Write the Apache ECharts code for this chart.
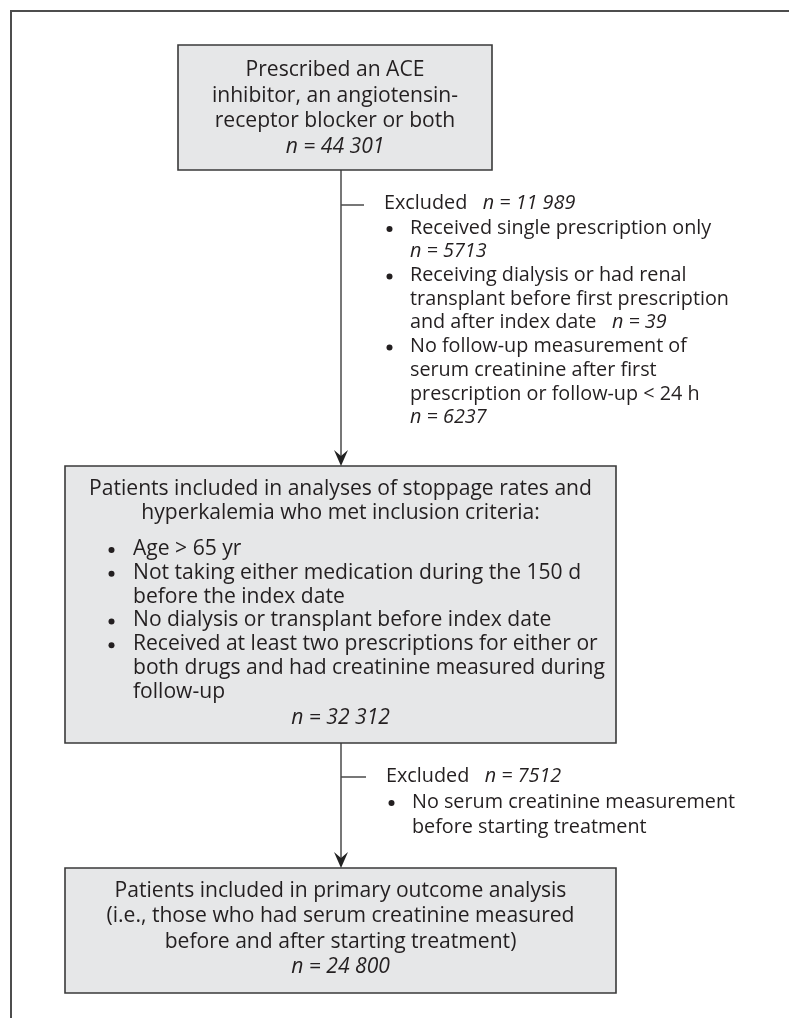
<!DOCTYPE html>
<html><head><meta charset="utf-8">
<script src="https://cdn.jsdelivr.net/npm/echarts@6/dist/echarts.min.js"></script>
<style>html,body{margin:0;padding:0;background:#fff}#c{width:789px;height:1018px}</style>
</head><body><div id="c"></div>
<script>
// ---- data (text content and counts) ----
const box1Lines = ['Prescribed an ACE', 'inhibitor, an angiotensin-', 'receptor blocker or both'];
const box1N = '44 301';

const excl1Head = ['Excluded', '11 989'];
// [type, text, count]
const excl1Lines = [
  ['bullet', 'Received single prescription only', ''],
  ['cont', '', '5713'],
  ['bullet', 'Receiving dialysis or had renal', ''],
  ['cont', 'transplant before first prescription', ''],
  ['cont', 'and after index date', '39'],
  ['bullet', 'No follow-up measurement of', ''],
  ['cont', 'serum creatinine after first', ''],
  ['cont', 'prescription or follow-up < 24 h', ''],
  ['cont', '', '6237']
];

const box2Title = ['Patients included in analyses of stoppage rates and', 'hyperkalemia who met inclusion criteria:'];
const box2Lines = [
  ['bullet', 'Age > 65 yr'],
  ['bullet', 'Not taking either medication during the 150 d'],
  ['cont', 'before the index date'],
  ['bullet', 'No dialysis or transplant before index date'],
  ['bullet', 'Received at least two prescriptions for either or'],
  ['cont', 'both drugs and had creatinine measured during'],
  ['cont', 'follow-up']
];
const box2N = '32 312';

const excl2Head = ['Excluded', '7512'];
const excl2Lines = [
  ['bullet', 'No serum creatinine measurement', ''],
  ['cont', 'before starting treatment', '']
];

const box3Lines = ['Patients included in primary outcome analysis', '(i.e., those who had serum creatinine measured', 'before and after starting treatment)'];
const box3N = '24 800';

// ---- styling / layout ----
const FONT = '"Open Sans", "Noto Sans", sans-serif';
const FS_SIDE = 19.8;
const FS_BOX = 21.1;
const TXT = '#231f20';
const BOXFILL = '#e6e7e8';
const BOXLINE = '#3a3a3a';
const CONN = '#4a4a4a';

function label(txt, x, y, align, fs) {
  return {
    type: 'text', silent: true, z: 10,
    style: {
      text: txt, x: x, y: y, fill: TXT,
      fontFamily: FONT, fontSize: fs,
      align: align || 'left', verticalAlign: 'middle',
      textAlign: align || 'left', textVerticalAlign: 'middle',
      rich: { i: { fontFamily: FONT, fontSize: fs, fontStyle: 'italic', fill: TXT, color: TXT } }
    }
  };
}
function withN(t, n) {
  if (!n) return t;
  return (t ? t + '   ' : '') + '{i|n = ' + n + '}';
}
function bullet(x, y) {
  return { type: 'circle', silent: true, z: 10, shape: { cx: x, cy: y, r: 3 }, style: { fill: TXT } };
}

const els = [];
// outer frame (cropped: only top and left edges visible)
els.push({ type: 'polyline', silent: true, shape: { points: [[11, 1018], [11, 11], [789, 11]] },
  style: { stroke: '#4d4d4d', lineWidth: 2, fill: null } });

// boxes
function box(x1, y1, x2, y2) {
  els.push({ type: 'rect', silent: true, z: 1, shape: { x: x1, y: y1, width: x2 - x1, height: y2 - y1 },
    style: { fill: BOXFILL, stroke: BOXLINE, lineWidth: 1.6 } });
}
box(178, 45, 492, 170);
box(65, 466, 616, 743);
box(65, 868, 616, 993);

// connectors
function vline(x, y1, y2) {
  els.push({ type: 'line', silent: true, shape: { x1: x, y1: y1, x2: x, y2: y2 - 4 },
    style: { stroke: CONN, lineWidth: 1.5 } });
  els.push({ type: 'polygon', silent: true, z: 5, shape: { points: [[x, y2], [x - 7, y2 - 16], [x, y2 - 10], [x + 7, y2 - 16]] },
    style: { fill: '#222' } });
}
function hline(x1, x2, y) {
  els.push({ type: 'line', silent: true, shape: { x1: x1, y1: y, x2: x2, y2: y },
    style: { stroke: CONN, lineWidth: 1.5 } });
}
vline(341, 170, 466);
hline(341, 364, 205);
vline(341, 743, 868);
hline(341, 366, 777);

// box 1 text
box1Lines.forEach((t, i) => els.push(label(t, 335, 70 + i * 25.5, 'center', FS_BOX)));
els.push(label(withN('', box1N), 335, 70 + 3 * 25.5, 'center', FS_BOX));

// exclusion 1
els.push(label(withN(excl1Head[0], excl1Head[1]), 384, 203, 'left', FS_SIDE));
excl1Lines.forEach((r, i) => {
  const y = 228 + i * 23.7;
  if (r[0] === 'bullet') els.push(bullet(389.5, y + 1));
  els.push(label(withN(r[1], r[2]), 410, y, 'left', FS_SIDE));
});

// box 2
box2Title.forEach((t, i) => els.push(label(t, 340.5, 489 + i * 24, 'center', FS_BOX)));
box2Lines.forEach((r, i) => {
  const y = 549 + i * 23.8;
  if (r[0] === 'bullet') els.push(bullet(111.5, y + 1));
  els.push(label(r[1], 133, y, 'left', FS_BOX));
});
els.push(label(withN('', box2N), 340.5, 718, 'center', FS_BOX));

// exclusion 2
els.push(label(withN(excl2Head[0], excl2Head[1]), 386, 776, 'left', FS_SIDE));
excl2Lines.forEach((r, i) => {
  const y = 802 + i * 25;
  if (r[0] === 'bullet') els.push(bullet(391.5, y + 1));
  els.push(label(withN(r[1], r[2]), 412, y, 'left', FS_SIDE));
});

// box 3
box3Lines.forEach((t, i) => els.push(label(t, 340.5, 891 + i * 25.3, 'center', FS_BOX)));
els.push(label(withN('', box3N), 340.5, 891 + 3 * 25.3, 'center', FS_BOX));

const chart = echarts.init(document.getElementById('c'), null, { renderer: 'canvas' });
chart.setOption({ backgroundColor: '#fff', animation: false, graphic: { elements: els } });
</script>
</body></html>
